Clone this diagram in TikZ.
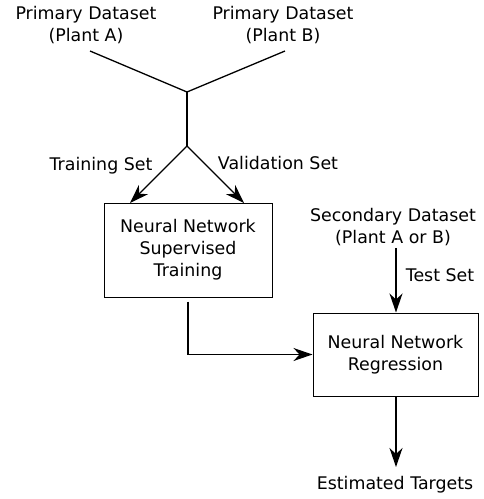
\documentclass[tikz,border=0pt]{standalone}
\usepackage{fontspec}
\setmainfont{DejaVu Sans}
\usetikzlibrary{arrows.meta}
\begin{document}
\begin{tikzpicture}[x=1pt,y=-1pt,
  font=\fontsize{17.4}{22}\selectfont,
  txt/.style={align=center,inner sep=0pt},
  box/.style={draw,line width=1pt,inner sep=0pt},
  conn/.style={line width=1.3pt},
  arr/.style={conn,-{Stealth[length=19pt,width=13pt,inset=6pt]}}]
\useasboundingbox (0,0) rectangle (484,499);
% source datasets
\node[txt] (pa) at (86,25) {Primary Dataset\\(Plant A)};
\node[txt] (pb) at (283,25) {Primary Dataset\\(Plant B)};
\coordinate (pae) at (90,51);
\coordinate (pbe) at (285,51);
\coordinate (join) at (187,92);
\coordinate (split) at (187,146);
\coordinate (ta) at (130,203);
\coordinate (va) at (244,203);
% training box
\node[box,minimum width=168pt,minimum height=94pt] (train) at (188,250) {};
\node[txt] at (train) {Neural Network\\Supervised\\Training};
% regression box
\node[box,minimum width=165pt,minimum height=83pt] (reg) at (395.5,354.5) {};
\node[txt] at (reg) {Neural Network\\Regression};
% secondary dataset and output
\node[txt] (sec) at (393,227) {Secondary Dataset\\(Plant A or B)};
\node[txt] (est) at (395,485) {Estimated Targets};
% edge labels
\node[txt] (tl) at (101,166) {Training Set};
\node[txt] (vl) at (278,163) {Validation Set};
\node[txt] (sl) at (440,275) {Test Set};
% connectors
\draw[conn] (pae) -- (join) -- (pbe);
\draw[conn] (join) -- (split);
\draw[arr] (split) -- (ta);
\draw[arr] (split) -- (va);
\draw[arr] (train.south) ++(0,4) |- (reg.west);
\draw[arr] (sec.south) ++(3,2) -- (reg.north -| 396,0);
\draw[arr] (reg.south -| 396,0) -- (396,467);
\end{tikzpicture}
\end{document}
